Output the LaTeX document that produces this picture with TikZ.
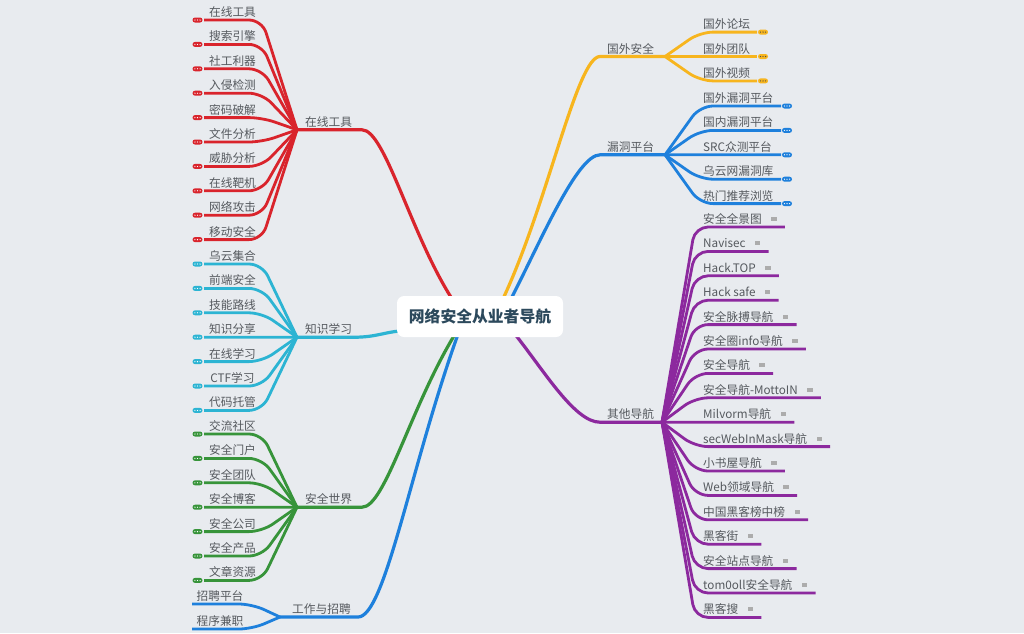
\documentclass[tikz,border=0pt]{standalone}
\usepackage{fontspec}
\setmainfont{Noto Sans CJK SC}
\usepackage{tikz}
\usetikzlibrary{calc,positioning}
\usepackage{xcolor}
\definecolor{fondo}{RGB}{232,235,239}
\definecolor{texto}{RGB}{85,89,94}
\definecolor{raiz}{RGB}{44,73,92}
\definecolor{rojo}{RGB}{217,36,44}
\definecolor{cian}{RGB}{44,180,211}
\definecolor{verde}{RGB}{55,148,58}
\definecolor{azul}{RGB}{30,128,220}
\definecolor{amarillo}{RGB}{247,181,30}
\definecolor{morado}{RGB}{140,41,158}
\pgfdeclarelayer{capa}
\pgfsetlayers{capa,main}
% Puntos dentro de la pildora de rama plegada
\newcommand{\puntos}[2]{\foreach \dx in {-2.6,0,2.6} {\fill[#2] ($(#1)+(\dx pt,0)$) circle (0.65pt);}}

\begin{document}
\begin{tikzpicture}[x=1pt,y=-1pt,
        hoja/.style={font=\fontsize{11.7}{14}\selectfont, text=texto, inner sep=0pt},
        rama/.style={line width=2.8pt, rounded corners=13pt},
        tronco/.style={line width=3.2pt},
        pildora/.style={fill=#1, rounded corners=2.5pt, minimum width=10pt, minimum height=5pt, inner sep=0pt},
        nota/.style={fill=gray!65, minimum width=5.5pt, minimum height=4pt, inner sep=0pt},
        raizbox/.style={fill=white, rounded corners=7pt, minimum width=166pt, minimum height=41pt, text=raiz, font=\fontsize{15.8}{18}\selectfont\bfseries}]

        % Margenes
        \useasboundingbox (0,0) rectangle (1024,633);

        % Nodo central
        \node[raizbox] (root) at (480,316.5) {网络安全从业者导航};

        % Centros de rama (izquierda y derecha)
        \coordinate (tool) at (297,129.8);   \coordinate (toolc) at (362,129.8);
        \coordinate (learn) at (297,337.2);  \coordinate (learnc) at (355,337.2);
        \coordinate (world) at (297,507.2);  \coordinate (worldc) at (362,507.2);
        \coordinate (job) at (280,617);      \coordinate (jobc) at (358,617);
        \coordinate (abroad) at (665,56.5);  \coordinate (abroadc) at (600,56.5);
        \coordinate (vuln) at (665,154.8);   \coordinate (vulnc) at (600,154.8);
        \coordinate (other) at (662,422.2);  \coordinate (otherc) at (600,422.2);

        % Fondo y troncos: del nodo central a cada rama
        \begin{pgfonlayer}{capa}
            \fill[fondo] (0,0) rectangle (1024,633);
            \draw[tronco, rojo] (tool) -- (toolc) .. controls +(23,0) and +(-42,-66) .. ([xshift=-28pt,yshift=-3pt]root.north);
            \draw[tronco, cian] (learn) -- (learnc) .. controls +(20,0) and +(-14,1) .. ([xshift=3pt,yshift=-14.5pt]root.west);
            \draw[tronco, verde] (world) -- (worldc) .. controls +(23,0) and +(-45,74) .. ([xshift=-25pt,yshift=3pt]root.south);
            \draw[tronco, azul] (job) -- (jobc) .. controls +(27,0) and +(-48,134) .. ([xshift=-22pt,yshift=3pt]root.south);
            \draw[tronco, amarillo] (abroad) -- (abroadc) .. controls +(-23,0) and +(45,-96) .. ([xshift=23pt,yshift=-3pt]root.north);
            \draw[tronco, azul] (vuln) -- (vulnc) .. controls +(-23,0) and +(29,-56) .. ([xshift=31pt,yshift=-3pt]root.north);
            \draw[tronco, morado] (other) -- (otherc) .. controls +(-25,0) and +(30,38) .. ([xshift=35pt,yshift=3pt]root.south);
        \end{pgfonlayer}

        % Etiquetas de rama
        \node[hoja, anchor=base west] (toollab) at (305,126.3) {在线工具};
        \node[hoja, anchor=base west] (learnlab) at (305,333.7) {知识学习};
        \node[hoja, anchor=base west] (worldlab) at (305,503.7) {安全世界};
        \node[hoja, anchor=base west] (joblab) at (292,613.5) {工作与招聘};
        \node[hoja, anchor=base west] (abroadlab) at (607,53) {国外安全};
        \node[hoja, anchor=base west] (vulnlab) at (607,151.3) {漏洞平台};
        \node[hoja, anchor=base west] (otherlab) at (607,418.7) {其他导航};

        % Hojas: en linea
        \foreach \nombre [count=\i] in {在线工具,搜索引擎,社工利器,入侵检测,密码破解,文件分析,威胁分析,在线靶机,网络攻击,移动安全} {
            \pgfmathsetmacro\y{20+(\i-1)*24.4}
            \node[hoja, anchor=base] (tool\i) at (232.5,\y-3.5) {\nombre};
            \coordinate (toolk\i) at (262,\y);
            \coordinate (toole\i) at (204,\y);
            \draw[rama, rojo] (tool) -- (toolk\i) -- (toole\i);
            \node[pildora=rojo] (toolp\i) at (197.5,\y) {};
            \puntos{toolp\i}{white}
        }

        % Hojas: aprendizaje
        \foreach \nombre [count=\i] in {乌云集合,前端安全,技能路线,知识分享,在线学习,CTF学习,代码托管} {
            \pgfmathsetmacro\y{264+(\i-1)*24.4}
            \node[hoja, anchor=base] (learn\i) at (232.5,\y-3.5) {\nombre};
            \coordinate (learnk\i) at (262,\y);
            \coordinate (learne\i) at (204,\y);
            \draw[rama, cian] (learn) -- (learnk\i) -- (learne\i);
            \node[pildora=cian] (learnp\i) at (197.5,\y) {};
            \puntos{learnp\i}{white}
        }

        % Hojas: mundo de la seguridad
        \foreach \nombre [count=\i] in {交流社区,安全门户,安全团队,安全博客,安全公司,安全产品,文章资源} {
            \pgfmathsetmacro\y{434+(\i-1)*24.4}
            \node[hoja, anchor=base] (world\i) at (232.5,\y-3.5) {\nombre};
            \coordinate (worldk\i) at (262,\y);
            \coordinate (worlde\i) at (204,\y);
            \draw[rama, verde] (world) -- (worldk\i) -- (worlde\i);
            \node[pildora=verde] (worldp\i) at (197.5,\y) {};
            \puntos{worldp\i}{white}
        }

        % Hojas: trabajo
        \foreach \nombre/\y [count=\i] in {招聘平台/604,程序兼职/629} {
            \node[hoja, anchor=base] (job\i) at (220,\y-3.5) {\nombre};
            \coordinate (jobk\i) at (252,\y);
            \coordinate (jobe\i) at (192,\y);
            \draw[rama, azul] (job) -- (jobk\i) -- (jobe\i);
        }

        % Hojas: extranjero
        \foreach \nombre [count=\i] in {国外论坛,国外团队,国外视频} {
            \pgfmathsetmacro\y{32.1+(\i-1)*24.4}
            \node[hoja, anchor=base west] (abroad\i) at (703,\y-3.5) {\nombre};
            \coordinate (abroadk\i) at (700,\y);
            \coordinate (abroade\i) at (757,\y);
            \draw[rama, amarillo] (abroad) -- (abroadk\i) -- (abroade\i);
            \node[pildora=amarillo] (abroadp\i) at (763,\y) {};
            \puntos{abroadp\i}{black!70}
        }

        % Hojas: vulnerabilidades
        \foreach \nombre [count=\i] in {国外漏洞平台,国内漏洞平台,SRC众测平台,乌云网漏洞库,热门推荐浏览} {
            \pgfmathsetmacro\y{106+(\i-1)*24.4}
            \node[hoja, anchor=base west] (vuln\i) at (703,\y-3.5) {\nombre};
            \coordinate (vulnk\i) at (700,\y);
            \coordinate (vulne\i) at (781,\y);
            \draw[rama, azul] (vuln) -- (vulnk\i) -- (vulne\i);
            \node[pildora=azul] (vulnp\i) at (787,\y) {};
            \puntos{vulnp\i}{white}
        }

        % Hojas: otras navegaciones
        \foreach \nombre [count=\i] in {安全全景图,Navisec,Hack.TOP,Hack safe,安全脉搏导航,安全圈info导航,安全导航,安全导航-MottoIN,Milvorm导航,secWebInMask导航,小书屋导航,Web领域导航,中国黑客榜中榜,黑客街,安全站点导航,tom0oll安全导航,黑客搜} {
            \pgfmathsetmacro\y{227+(\i-1)*24.4}
            \node[hoja, anchor=base west] (other\i) at (703,\y-3.5) {\nombre};
            \node[nota, right=9pt of other\i] (othern\i) {};
            \coordinate (otherk\i) at (695,\y);
            \coordinate (othere\i) at ($(othern\i.east |- otherk\i)+(8pt,0)$);
            \draw[rama, morado] (other) -- (otherk\i) -- (othere\i);
        }

    \end{tikzpicture}
\end{document}
